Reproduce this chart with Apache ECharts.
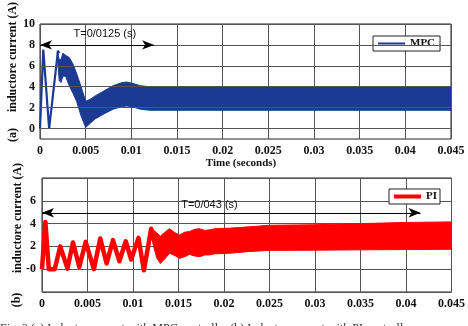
<!DOCTYPE html>
<html>
<head>
<meta charset="utf-8">
<script src="https://cdn.jsdelivr.net/npm/echarts@6/dist/echarts.min.js"></script>
<style>
  html, body { margin: 0; padding: 0; background: #fff; }
  #main { width: 468px; height: 326px; }
</style>
</head>
<body>
<div id="main"></div>
<script>
// time axis ticks (seconds)
const xTicks = [0, 0.005, 0.01, 0.015, 0.02, 0.025, 0.03, 0.035, 0.04, 0.045];
const xTickLabels = ['0', '0.005', '0.01', '0.015', '0.02', '0.025', '0.03', '0.035', '0.04', '0.045'];

// (a) MPC - y ticks
const yTicksA = [0, 2, 4, 6, 8, 10];
// MPC start-up spikes
const mpcSpikeT = [0, 0.00036, 0.0010, 0.00197, 0.0021];
const mpcSpikeV = [0, 7.55, 0, 7.45, 7.2];
// MPC ripple band (upper / lower envelope)
const mpcBandT  = [0.0019, 0.0021, 0.0023, 0.0025, 0.0028, 0.0032, 0.0036, 0.004, 0.0045, 0.005, 0.0055, 0.006, 0.007, 0.008, 0.009, 0.0095, 0.010, 0.011, 0.012, 0.013, 0.02, 0.03, 0.045];
const mpcBandUp = [7.4, 6.6, 6.6, 7.2, 7.0, 6.8, 6.2, 5.3, 4.0, 2.6, 2.8, 3.1, 3.6, 4.1, 4.4, 4.45, 4.35, 4.1, 4.0, 4.0, 4.0, 4.0, 4.0];
const mpcBandLo = [7.0, 4.6, 4.4, 5.0, 5.0, 4.1, 3.4, 2.6, 1.2, 0.1, 0.5, 0.9, 1.4, 1.85, 2.1, 2.15, 2.1, 1.85, 1.75, 1.75, 1.75, 1.75, 1.75];

// (b) PI - y ticks
const yTicksB = [0, 2, 4, 6];
const yTickLabelsB = ['-0', '2', '4', '6'];
// PI start-up oscillation
const piWaveT = [0, 0.00037, 0.00075, 0.0014, 0.0020, 0.0028, 0.0034, 0.0041, 0.0048, 0.0057, 0.0064, 0.0071, 0.0078, 0.0085, 0.0092, 0.0098, 0.0106, 0.0112, 0.0120, 0.0126];
const piWaveV = [0, 4.15, 0, 0, 2.0, 0.05, 2.35, 0.2, 2.4, 0.0, 2.7, 0.5, 2.55, 0.7, 2.45, 0.85, 2.75, -0.1, 3.55, 1.6];
// PI ripple band (upper / lower envelope)
const piBandT  = [0.0120, 0.0126, 0.013, 0.0136, 0.014, 0.0146, 0.0151, 0.0157, 0.0162, 0.0168, 0.0173, 0.0179, 0.0184, 0.019, 0.0206, 0.0228, 0.025, 0.03, 0.035, 0.04, 0.045];
const piBandUp = [3.6, 3.2, 2.9, 3.3, 3.55, 3.2, 3.0, 3.25, 3.3, 3.5, 3.55, 3.4, 3.45, 3.55, 3.6, 3.72, 3.85, 3.9, 4.0, 4.1, 4.15];
const piBandLo = [3.0, 1.0, 0.5, 1.0, 1.4, 1.2, 0.95, 1.1, 1.3, 1.15, 1.1, 1.25, 1.25, 1.35, 1.4, 1.55, 1.65, 1.67, 1.7, 1.72, 1.75];

const MPC_COLOR = '#1c3a94';
const PI_COLOR = '#ff0000';
const FONT = 'Liberation Serif';

function zip(a, b) { return a.map((v, i) => [v, b[i]]); }

function bandSeries(name, xi, tArr, up, lo, color) {
  return {
    name: name, type: 'custom', xAxisIndex: xi, yAxisIndex: xi,
    silent: true, clip: true, z: 3,
    data: [[tArr[0], up[0]]],
    renderItem: function (params, api) {
      const pts = [];
      for (let i = 0; i < tArr.length; i++) pts.push(api.coord([tArr[i], up[i]]));
      for (let i = tArr.length - 1; i >= 0; i--) pts.push(api.coord([tArr[i], lo[i]]));
      return { type: 'polygon', shape: { points: pts }, style: { fill: color, stroke: color, lineWidth: 1 } };
    }
  };
}

function xAxisOpt(gi) {
  return {
    type: 'value', gridIndex: gi, min: 0, max: 0.045, interval: 0.005,
    axisLine: { show: false }, axisTick: { show: false },
    axisLabel: {
      margin: 6, fontFamily: FONT, fontWeight: 'bold', fontSize: 12, color: '#111',
      formatter: function (v) { return xTickLabels[xTicks.findIndex(t => Math.abs(t - v) < 1e-9)] || ''; }
    },
    splitLine: { show: true, lineStyle: { color: '#555', width: 1 } }
  };
}

const chart = echarts.init(document.getElementById('main'));
chart.setOption({
  animation: false,
  grid: [
    { left: 40, right: 17, top: 24, height: 115, show: true, borderColor: '#222', borderWidth: 1 },
    { left: 42, right: 16, top: 178, height: 114, show: true, borderColor: '#222', borderWidth: 1 }
  ],
  xAxis: [xAxisOpt(0), xAxisOpt(1)],
  yAxis: [
    {
      type: 'value', gridIndex: 0, min: -1, max: 10, interval: 1,
      axisLine: { show: false }, axisTick: { show: false }, splitLine: { show: false },
      axisLabel: {
        margin: 5, fontFamily: FONT, fontWeight: 'bold', fontSize: 12, color: '#111',
        formatter: function (v) { return yTicksA.indexOf(v) >= 0 ? String(v) : ''; }
      }
    },
    {
      type: 'value', gridIndex: 1, min: -2, max: 8, interval: 2,
      axisLine: { show: false }, axisTick: { show: false },
      splitLine: { show: true, lineStyle: { color: '#555', width: 1 } },
      axisLabel: {
        margin: 6, fontFamily: FONT, fontWeight: 'bold', fontSize: 12, color: '#111',
        formatter: function (v) { const i = yTicksB.indexOf(v); return i >= 0 ? yTickLabelsB[i] : ''; }
      }
    }
  ],
  legend: [
    {
      data: ['MPC'], left: 373, top: 36, orient: 'horizontal',
      icon: 'rect', itemWidth: 27, itemHeight: 2, itemGap: 4,
      padding: [2, 5, 2, 5], borderColor: '#222', borderWidth: 1, backgroundColor: '#fff',
      textStyle: { fontFamily: FONT, fontWeight: 'bold', fontSize: 11, color: '#111', lineHeight: 11 }
    },
    {
      data: ['PI'], left: 389, top: 189, orient: 'horizontal',
      icon: 'rect', itemWidth: 27, itemHeight: 4, itemGap: 4,
      padding: [2, 3, 2, 5], borderColor: '#222', borderWidth: 1, backgroundColor: '#fff',
      textStyle: { fontFamily: FONT, fontWeight: 'bold', fontSize: 11, color: '#111', lineHeight: 11 }
    }
  ],
  series: [
    // horizontal grid lines for panel (a)
    {
      name: 'gridA', type: 'line', xAxisIndex: 0, yAxisIndex: 0, data: [], z: 1, silent: true,
      markLine: {
        silent: true, symbol: ['none', 'none'], label: { show: false },
        lineStyle: { color: '#555', width: 1, type: 'solid' },
        data: yTicksA.map(v => ({ yAxis: v }))
      }
    },
    bandSeries('MPC band', 0, mpcBandT, mpcBandUp, mpcBandLo, MPC_COLOR),
    {
      name: 'MPC', type: 'line', xAxisIndex: 0, yAxisIndex: 0, z: 4,
      data: zip(mpcSpikeT, mpcSpikeV), showSymbol: false, color: MPC_COLOR,
      lineStyle: { color: MPC_COLOR, width: 2.2 },
      markLine: {
        silent: true, symbol: ['arrow', 'arrow'], symbolSize: [7, 12],
        label: { show: false },
        lineStyle: { color: '#000', width: 1.2, type: 'solid' },
        data: [[{ coord: [0, 8] }, { coord: [0.0125, 8] }]]
      },
      markPoint: {
        silent: true, symbol: 'rect', symbolSize: 1, itemStyle: { color: 'rgba(0,0,0,0)' },
        label: { show: true, position: 'inside', formatter: 'T=0/0125 (s)', fontFamily: 'Liberation Sans', fontSize: 11, color: '#111' },
        data: [{ coord: [0.0071, 9.05] }]
      }
    },
    bandSeries('PI band', 1, piBandT, piBandUp, piBandLo, PI_COLOR),
    {
      name: 'PI', type: 'line', xAxisIndex: 1, yAxisIndex: 1, z: 4,
      data: zip(piWaveT, piWaveV), showSymbol: false, color: PI_COLOR,
      lineStyle: { color: PI_COLOR, width: 4.5, join: 'round' },
      markLine: {
        silent: true, symbol: ['arrow', 'arrow'], symbolSize: [7, 12],
        label: { show: false },
        lineStyle: { color: '#000', width: 1.2, type: 'solid' },
        data: [[{ coord: [0, 4.95] }, { coord: [0.0416, 4.95] }]]
      },
      markPoint: {
        silent: true, symbol: 'rect', symbolSize: 1, itemStyle: { color: 'rgba(0,0,0,0)' },
        label: { show: true, position: 'inside', formatter: 'T=0/043 (s)', fontFamily: 'Liberation Sans', fontSize: 11, color: '#111' },
        data: [{ coord: [0.0184, 5.6] }]
      }
    }
  ],
  graphic: [
    { type: 'text', x: 12.5, y: 57, rotation: Math.PI / 2,
      style: { text: 'inductore current (A)', font: 'bold 12px "Liberation Serif"', fill: '#111', align: 'center', verticalAlign: 'middle' } },
    { type: 'text', x: 13, y: 135, rotation: Math.PI / 2,
      style: { text: '(a)', font: 'bold 12px "Liberation Serif"', fill: '#111', align: 'center', verticalAlign: 'middle' } },
    { type: 'text', x: 17.5, y: 218, rotation: Math.PI / 2,
      style: { text: 'inductore current (A)', font: 'bold 12px "Liberation Serif"', fill: '#111', align: 'center', verticalAlign: 'middle' } },
    { type: 'text', x: 17, y: 300, rotation: Math.PI / 2,
      style: { text: '(b)', font: 'bold 12px "Liberation Serif"', fill: '#111', align: 'center', verticalAlign: 'middle' } },
    { type: 'text', x: 241, y: 163,
      style: { text: 'Time (seconds)', font: 'bold 11px "Liberation Serif"', fill: '#111', align: 'center', verticalAlign: 'middle' } },
    { type: 'text', x: 0, y: 323,
      style: { text: 'Fig. 3 (a) Inductor current with MPC controller (b) Inductor current with PI controller', font: '12px "Liberation Serif"', fill: '#333', align: 'left', verticalAlign: 'top' } }
  ]
});
</script>
</body>
</html>
